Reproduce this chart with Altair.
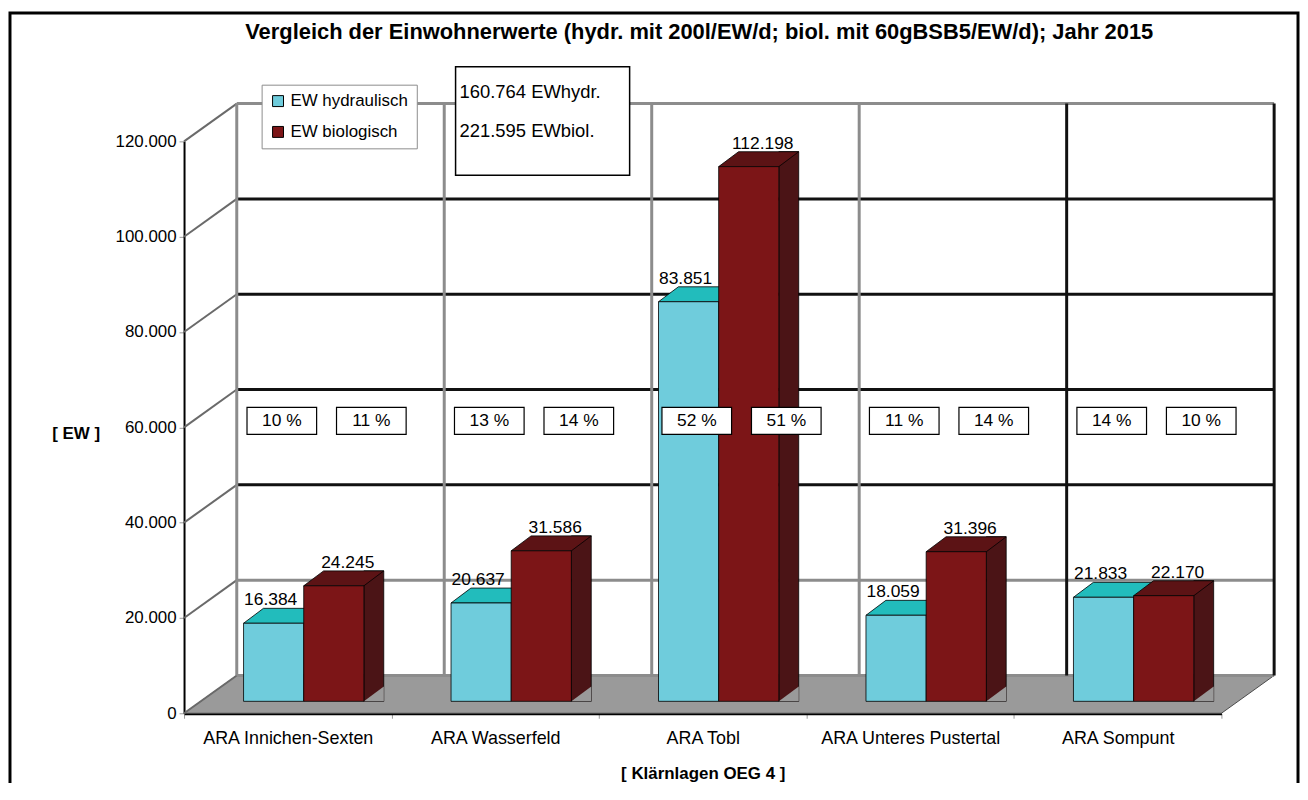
import altair as alt
import pandas as pd

# ---------------- data ----------------
categories = ["ARA Innichen-Sexten", "ARA Wasserfeld", "ARA Tobl",
              "ARA Unteres Pustertal", "ARA Sompunt"]
series_names = ["EW hydraulisch", "EW biologisch"]
ew_hydraulisch = [16384, 20637, 83851, 18059, 21833]
ew_biologisch = [24245, 31586, 112198, 31396, 22170]
y_tick_values = [0, 20000, 40000, 60000, 80000, 100000, 120000]

rows = []
for c, h, b in zip(categories, ew_hydraulisch, ew_biologisch):
    rows.append({"anlage": c, "serie": series_names[0], "ew": h})
    rows.append({"anlage": c, "serie": series_names[1], "ew": b})
df = pd.DataFrame(rows)
ticks_df = pd.DataFrame({"ew": y_tick_values})
cat_df = pd.DataFrame({"anlage": categories})
one = alt.InlineData(values=[{"k": 1}])

# ---------------- style ----------------
W, H = 1043, 575
DX, DY = 53, -38          # depth of the back wall
FONT = "Liberation Sans"
HW = 30.25                # half bar width
TDX, TDY = 20, -15        # depth of a bar
BY = -12                  # bars stand a bit behind the front edge

cyan, cyan_top = "#6FCCDC", "#22BCBC"
red, red_top, red_side = "#7C1517", "#5C1315", "#4B1416"
floor_col = "#9A9A9A"
wall_gray = "#8C8C8C"

xscale = alt.Scale(paddingInner=0, paddingOuter=0)
yscale = alt.Scale(domain=[0, 120000], nice=False, zero=True)

x_axis = alt.Axis(title="[ Klärnlagen OEG 4 ]", titleFont=FONT, titleFontSize=17,
                  titleFontWeight="bold", titlePadding=19, titleColor="black",
                  labelFont=FONT, labelFontSize=18, labelColor="black", labelPadding=11,
                  labelAngle=0, labelLimit=300, tickSize=5, tickColor="#999999",
                  tickBand="extent", domainColor="black", domainWidth=3, grid=False)
y_axis = alt.Axis(title="[ EW ]", titleAngle=0, titleX=-109, titleY=294,
                  titleAlign="center", titleBaseline="middle", titleFont=FONT,
                  titleFontSize=17, titleFontWeight="bold", titleColor="black",
                  values=y_tick_values, format=",d", labelFont=FONT, labelFontSize=17,
                  labelColor="black", labelPadding=3, tickSize=5, tickColor="#999999",
                  domainColor="black", domainWidth=2, grid=False)

x_main = alt.X("anlage:N", sort=categories, scale=xscale, axis=x_axis)
xoff = alt.XOffset("serie:N", sort=series_names,
                   scale=alt.Scale(paddingInner=0, paddingOuter=0.724, align=0.683))
y_main = alt.Y("ew:Q", scale=yscale, axis=y_axis)

is_h = alt.datum.serie == series_names[0]
is_b = alt.datum.serie == series_names[1]

# ---------------- frame, floor, walls ----------------
frame = alt.Chart(one).mark_rect(fillOpacity=0, stroke="black", strokeWidth=3).encode(
    x=alt.value(-175), x2=alt.value(1120), y=alt.value(-129), y2=alt.value(700))

floor = alt.Chart(one).mark_point(
    shape=f"M 0 0 L {W} 0 L {W + DX} {DY} L {DX} {DY} Z", size=4, filled=True,
    fill=floor_col, opacity=1, fillOpacity=1, stroke="#4a4a4a", strokeWidth=1
).encode(x=alt.value(0), y=alt.value(H))

side_wall = alt.Chart(ticks_df).mark_rule(color="#6a6a6a", strokeWidth=2, y2Offset=DY).encode(
    x=alt.value(0), x2=alt.value(DX), y=y_main, y2=alt.Y2("ew:Q"))

back_h = alt.Chart(ticks_df).mark_rule(yOffset=DY, strokeWidth=3).encode(
    x=alt.value(DX), x2=alt.value(W + DX), y=y_main,
    color=alt.condition((alt.datum.ew >= 40000) & (alt.datum.ew <= 100000),
                        alt.value("#111111"), alt.value(wall_gray)))

back_v = alt.Chart(cat_df).mark_rule(xOffset=DX, strokeWidth=3).encode(
    x=alt.X("anlage:N", sort=categories, scale=xscale, axis=x_axis, bandPosition=0),
    y=alt.value(DY), y2=alt.value(H + DY),
    color=alt.condition(alt.datum.anlage == categories[-1],
                        alt.value("#111111"), alt.value(wall_gray)))

back_right = alt.Chart(one).mark_rule(color="#111111", strokeWidth=3).encode(
    x=alt.value(W + DX), y=alt.value(DY), y2=alt.value(H + DY))

# ---------------- 3D bars ----------------
sides = alt.Chart(df).transform_filter(is_b).mark_bar(
    width=TDX, xOffset=86.5, yOffset=BY + TDY, y2Offset=BY,
    fill=red_side, stroke="black", strokeWidth=0.8
).encode(x=x_main, y=y_main, y2=alt.Y2(datum=0))

patch = alt.Chart(df).transform_filter(is_b).mark_point(
    shape=f"M {HW} 0 L {HW + TDX} 0 L {HW + TDX} {TDY} Z", size=4, filled=True,
    fill=floor_col, opacity=1, strokeWidth=0, yOffset=BY
).encode(x=x_main, xOffset=xoff, y=alt.Y(datum=0, scale=yscale, axis=y_axis))

tops = alt.Chart(df).mark_point(
    shape=f"M {-HW} 0 L {HW} 0 L {HW + TDX} {TDY} L {-HW + TDX} {TDY} Z", size=4,
    filled=True, opacity=1, stroke="black", strokeWidth=0.8, yOffset=BY
).encode(x=x_main, xOffset=xoff, y=y_main,
         fill=alt.condition(is_h, alt.value(cyan_top), alt.value(red_top)))

fronts = alt.Chart(df).mark_bar(
    yOffset=BY, y2Offset=BY, stroke="black", strokeWidth=0.8
).encode(
    x=x_main, xOffset=xoff, y=y_main, y2=alt.Y2(datum=0),
    color=alt.Color("serie:N", sort=series_names,
                    scale=alt.Scale(domain=series_names, range=[cyan, red]),
                    legend=alt.Legend(orient="none", legendX=78, legendY=-57, title=None,
                                      fillColor="white", strokeColor="#8c8c8c", padding=8,
                                      symbolType="square", symbolSize=121,
                                      symbolStrokeColor="black", symbolStrokeWidth=1,
                                      labelFont=FONT, labelFontSize=17, labelColor="black",
                                      rowPadding=13, labelOffset=4)))

value_labels = []
for test, ddx in [(is_h, -3), (is_b, 14)]:
    value_labels.append(
        alt.Chart(df).transform_filter(test).mark_text(
            dy=-35, dx=ddx, baseline="middle", fontSize=17.5, font=FONT, color="black"
        ).encode(x=x_main, xOffset=xoff, y=y_main, text=alt.Text("ew:Q", format=",d")))

pct_layers = []
for test, off in [(is_h, -6), (is_b, 84)]:
    base = alt.Chart(df).transform_joinaggregate(
        total="sum(ew)", groupby=["serie"]
    ).transform_calculate(
        pct="format(100 * datum.ew / datum.total, '.0f') + ' %'"
    ).transform_filter(test)
    pct_layers.append(base.mark_point(
        shape="M -35 -13.5 L 35 -13.5 L 35 13.5 L -35 13.5 Z", size=4, filled=True,
        fill="white", stroke="black", strokeWidth=1.2, opacity=1, xOffset=off
    ).encode(x=x_main, y=alt.value(281)))
    pct_layers.append(base.mark_text(
        xOffset=off, fontSize=17.5, font=FONT, color="black", baseline="middle"
    ).encode(x=x_main, y=alt.value(281), text="pct:N"))

# ---------------- info box and title ----------------
info_box = alt.Chart(one).mark_rect(fill="white", stroke="black", strokeWidth=1.5).encode(
    x=alt.value(273), x2=alt.value(448), y=alt.value(-75), y2=alt.value(34))

info_texts = []
for name, suffix, ypos in [(series_names[0], " EWhydr.", -50), (series_names[1], " EWbiol.", -10)]:
    info_texts.append(
        alt.Chart(df).transform_aggregate(total="sum(ew)", groupby=["serie"])
        .transform_filter(alt.datum.serie == name)
        .transform_calculate(txt=f"format(datum.total, ',d') + '{suffix}'")
        .mark_text(align="left", baseline="middle", fontSize=18.5, font=FONT, color="black")
        .encode(x=alt.value(277), y=alt.value(ypos), text="txt:N"))

title = alt.Chart(one).mark_text(
    text="Vergleich der Einwohnerwerte (hydr. mit 200l/EW/d; biol. mit 60gBSB5/EW/d); Jahr 2015",
    fontSize=22, fontWeight="bold", font=FONT, color="black", baseline="middle", align="center"
).encode(x=alt.value(518), y=alt.value(-110))

chart = alt.layer(
    frame, floor, side_wall, back_h, back_v, back_right,
    sides, patch, tops, fronts, *value_labels, *pct_layers,
    info_box, *info_texts, title
).properties(
    width=W, height=H,
    autosize=alt.AutoSizeParams(type="none"),
    padding={"left": 177, "top": 132, "right": 79, "bottom": 68},
    background="white"
).configure(
    font=FONT,
    locale={"number": {"decimal": ",", "thousands": ".", "grouping": [3],
                       "currency": ["", " €"]}}
).configure_view(strokeWidth=0)

chart.save("out.html", embed_options={"renderer": "svg", "actions": False})
